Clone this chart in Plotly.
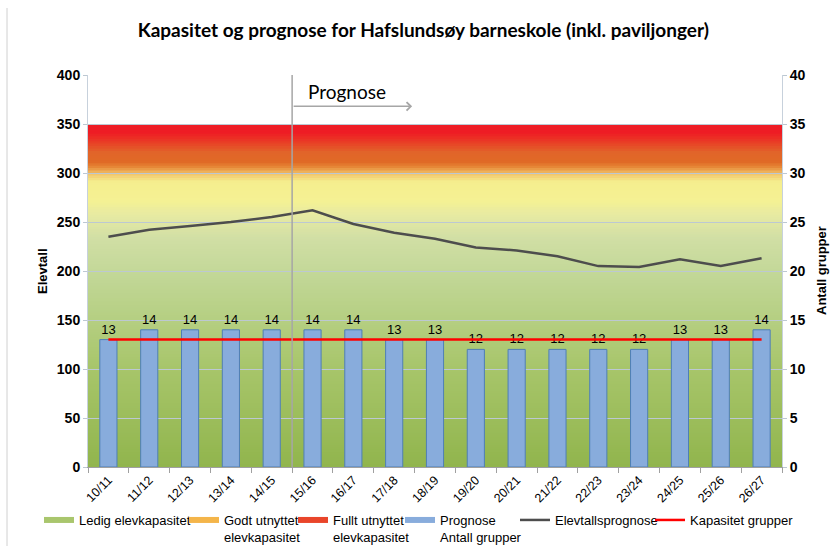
import plotly.graph_objects as go

# school years on the x axis
years = ["10/11", "11/12", "12/13", "13/14", "14/15", "15/16", "16/17", "17/18", "18/19",
         "19/20", "20/21", "21/22", "22/23", "23/24", "24/25", "25/26", "26/27"]

# number of groups (right axis)
groups = [13, 14, 14, 14, 14, 14, 14, 13, 13, 12, 12, 12, 12, 12, 13, 13, 14]

# pupil forecast (left axis)
pupils = [235, 242, 246, 250, 255, 262, 248, 239, 233, 224, 221, 215, 205, 204, 212, 205, 213]

# group capacity (right axis)
capacity_groups = [13] * len(years)

# capacity zones in pupils (left axis)
zone_bottom = 0
zone_top = 350
forecast_start = 4.5  # boundary between 14/15 and 15/16

# colour stops for the background gradient (value, colour)
grad_stops = [(0, "#91b54d"), (100, "#a7c56a"), (200, "#c3d899"), (235, "#d2dfa5"),
              (258, "#e8eba2"), (272, "#f5f193"), (291, "#f5ee8e"), (299, "#f2c66c"),
              (305, "#e88f3c"), (311, "#e06a26"), (321, "#e1652a"), (331, "#e93f26"),
              (341, "#ee1c25"), (350, "#ee1c25")]

W, H = 830, 546
L, R, T, B = 88, 48, 75, 79


def hex2rgb(h):
    h = h.lstrip("#")
    return tuple(int(h[i:i + 2], 16) for i in (0, 2, 4))


def colour_at(v):
    for (v0, c0), (v1, c1) in zip(grad_stops[:-1], grad_stops[1:]):
        if v0 <= v <= v1:
            t = (v - v0) / (v1 - v0) if v1 > v0 else 0
            a, b = hex2rgb(c0), hex2rgb(c1)
            r = [round(a[i] + (b[i] - a[i]) * t) for i in range(3)]
            return f"rgb({r[0]},{r[1]},{r[2]})"
    return grad_stops[-1][1]


def px_x(p):
    return (p - L) / (W - L - R)


def px_y(p):
    return (H - B - p) / (H - T - B)


fig = go.Figure()

# legend-only entries for the zones
fig.add_trace(go.Scatter(x=[None], y=[None], mode="lines", name="Ledig elevkapasitet",
                         line=dict(color="#a9c66d", width=6), legend="legend"))
fig.add_trace(go.Scatter(x=[None], y=[None], mode="lines", name="Godt utnyttet<br>elevkapasitet",
                         line=dict(color="#f4b54a", width=6), legend="legend2"))
fig.add_trace(go.Scatter(x=[None], y=[None], mode="lines", name="Fullt utnyttet<br>elevkapasitet",
                         line=dict(color="#e9452a", width=6), legend="legend3"))
fig.add_trace(go.Scatter(x=[None], y=[None], mode="lines", name="Prognose<br>Antall grupper",
                         line=dict(color="#88acdc", width=6), legend="legend4"))

fig.add_trace(go.Bar(x=years, y=groups, yaxis="y2", name="Prognose Antall grupper",
                     showlegend=False,
                     marker=dict(color="#88acdc", line=dict(color="#4f7fb5", width=1)),
                     text=groups, textposition="outside", cliponaxis=False,
                     textfont=dict(size=13, color="#000000", family="Liberation Sans")))
fig.add_trace(go.Scatter(x=years, y=pupils, mode="lines", name="Elevtallsprognose",
                         line=dict(color="#4d4d4d", width=2.5), legend="legend5"))
fig.add_trace(go.Scatter(x=years, y=capacity_groups, yaxis="y2", mode="lines",
                         name="Kapasitet grupper", line=dict(color="#ff0000", width=2.5),
                         legend="legend6"))

# gradient background of the capacity zones (stacked from the bottom, no seams)
shapes = []
step = 2.5
v = zone_bottom
while v < zone_top:
    shapes.append(dict(type="rect", xref="x domain", yref="y", x0=0, x1=1,
                       y0=v, y1=zone_top,
                       fillcolor=colour_at(v + step / 2), line=dict(width=0), layer="below"))
    v += step

# forecast divider
shapes.append(dict(type="line", xref="x", yref="y domain", x0=forecast_start, x1=forecast_start,
                   y0=0, y1=1, line=dict(color="#a6a6a6", width=1.5), layer="above"))
# chart frame edge on the left
shapes.append(dict(type="line", xref="paper", yref="paper", x0=px_x(7), x1=px_x(7),
                   y0=px_y(546), y1=px_y(8), line=dict(color="#d0d0d0", width=1)))

legend_style = dict(orientation="h", yanchor="top", valign="top", itemwidth=30,
                    font=dict(size=13, family="Liberation Sans"), bgcolor="rgba(0,0,0,0)",
                    xref="container", yref="container", y=1 - 505 / H, xanchor="left")
legend_text_x = [79, 224, 333, 440, 555, 690]
legends = {}
for i, tx in enumerate(legend_text_x):
    key = "legend" if i == 0 else f"legend{i + 1}"
    legends[key] = dict(legend_style, x=(tx - 40) / W)

fig.update_layout(
    width=W, height=H,
    margin=dict(l=L, r=R, t=T, b=B, autoexpand=False),
    paper_bgcolor="white", plot_bgcolor="white",
    title=dict(text="<b>Kapasitet og prognose for Hafslundsøy barneskole (inkl. paviljonger)</b>",
               x=0.51, xanchor="center", y=1 - 30 / H, yanchor="middle",
               font=dict(family="Lato", size=19, color="#000000")),
    font=dict(family="Liberation Sans", color="#000000"),
    bargap=0.58,
    shapes=shapes,
    showlegend=True,
    **legends,
    xaxis=dict(type="category", range=[-0.5, 16.5], tickangle=-45, tickson="boundaries",
               ticks="outside", ticklen=5, tickcolor="#a0a0a0", showline=True,
               linecolor="#a0a0a0", linewidth=1, showgrid=False, automargin=False,
               tickfont=dict(size=12.5, family="Liberation Sans")),
    yaxis=dict(range=[0, 400], dtick=50, showgrid=True, gridcolor="#bcc8d2", gridwidth=1,
               ticks="outside", ticklen=4, tickcolor="#bcc8d2", showline=True,
               linecolor="#c7d1dc", zeroline=False, automargin=False,
               tickfont=dict(size=14, family="Liberation Sans", weight="bold")),
    yaxis2=dict(range=[0, 40], dtick=5, overlaying="y", side="right", showgrid=False,
                ticks="outside", ticklen=4, tickcolor="#bcc8d2", showline=True,
                linecolor="#c7d1dc", zeroline=False, automargin=False,
                tickfont=dict(size=14, family="Liberation Sans", weight="bold")),
    annotations=[
        dict(x=7.44, y=368, ax=forecast_start, ay=368, xref="x", yref="y", axref="x", ayref="y",
             text="", showarrow=True, arrowhead=4, arrowsize=1.1, arrowwidth=1.5,
             arrowcolor="#a6a6a6"),
        dict(x=4.84, y=383, xref="x", yref="y", xanchor="left", yanchor="middle",
             text="Prognose", showarrow=False,
             font=dict(family="Lato", size=19, color="#000000")),
        dict(x=px_x(42), y=0.5, xref="paper", yref="paper", xanchor="center", yanchor="middle",
             text="<b>Elevtall</b>", textangle=-90, showarrow=False, font=dict(size=13)),
        dict(x=px_x(821), y=0.5, xref="paper", yref="paper", xanchor="center", yanchor="middle",
             text="<b>Antall grupper</b>", textangle=-90, showarrow=False, font=dict(size=13)),
    ],
)

fig.write_html("out.html", config={"displayModeBar": False},
               post_script="document.body.style.margin='0';")
